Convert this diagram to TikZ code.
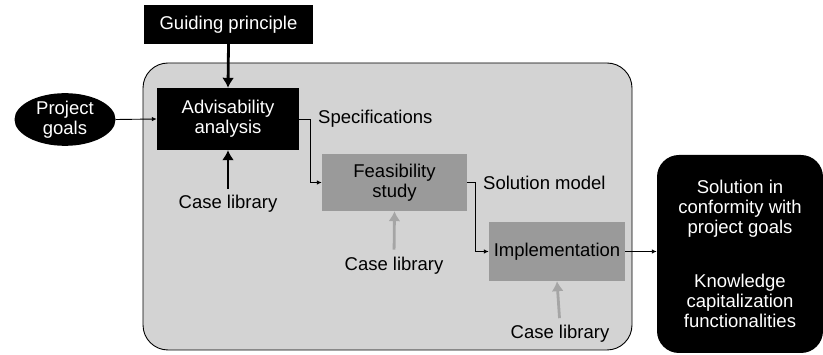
\documentclass[tikz,border=0pt]{standalone}
\usepackage{fontspec}
\setmainfont{Liberation Sans}
\usetikzlibrary{arrows.meta,shapes.geometric}
\definecolor{panel}{RGB}{211,211,211}
\definecolor{stage}{RGB}{154,154,154}
\definecolor{feed}{RGB}{165,165,165}
\begin{document}
\begin{tikzpicture}[x=1pt,y=-1pt,
  font=\fontsize{18.5}{20}\selectfont,
  blackbox/.style={fill=black,text=white,inner sep=0pt,align=center},
  stagebox/.style={fill=stage,text=black,inner sep=0pt,align=center},
  label/.style={inner sep=0pt,align=center},
  thinarrow/.style={-{Latex[length=5pt,width=4.5pt]},line width=0.9pt},
  thickarrow/.style={-{Latex[length=10pt,width=12pt]},line width=2.8pt},
  grayarrow/.style={-{Latex[length=10pt,width=12pt]},line width=2.8pt,draw=feed}]
\useasboundingbox (0,0) rectangle (823,355);

% process panel
\draw[fill=panel,line width=0.9pt,rounded corners=25pt] (143,63) rectangle (632,350);

% nodes
\node[blackbox,minimum width=169pt,minimum height=39pt] (gp) at (228.5,24.5) {Guiding principle};
\node[ellipse,fill=black,text=white,inner sep=0pt,minimum width=101pt,minimum height=47pt,align=center] (pg) at (65,119.5) {Project\\goals};
\node[blackbox,minimum width=142pt,minimum height=62pt] (adv) at (228,119) {Advisability\\analysis};
\node[stagebox,minimum width=145pt,minimum height=57pt] (feas) at (394.5,182.5) {Feasibility\\study};
\node[stagebox,minimum width=136pt,minimum height=59pt] (imp) at (557,251.5) {Implementation};
\node[blackbox,rounded corners=22pt,minimum width=166pt,minimum height=198pt] (out) at (740,254)
  {Solution in\\conformity with\\project goals\\[34pt]Knowledge\\capitalization\\functionalities};

\node[label] (cl1) at (228,203.5) {Case library};
\node[label] (cl2) at (394,265.5) {Case library};
\node[label] (cl3) at (560,334) {Case library};
\node[label,anchor=west] (spec) at (318,119) {Specifications};
\node[label,anchor=west] (solm) at (483,183) {Solution model};

% connectors
\draw[thickarrow] (gp.south) -- (adv.north);
\draw[thinarrow] (pg.east) -- (adv.west);
\draw[thickarrow,shorten <=6pt] (cl1.north) -- (adv.south);
\draw[grayarrow,shorten <=7pt] (cl2.north) -- (feas.south);
\draw[grayarrow,shorten <=7pt] (cl3.north) -- (imp.south);
\draw[thinarrow] (adv.east) -- ++(11,0) |- (feas.west);
\draw[thinarrow] (feas.east) -- ++(8,0) |- (imp.west);
\draw[thinarrow] (imp.east) -- (imp.east -| out.west);
\end{tikzpicture}
\end{document}
